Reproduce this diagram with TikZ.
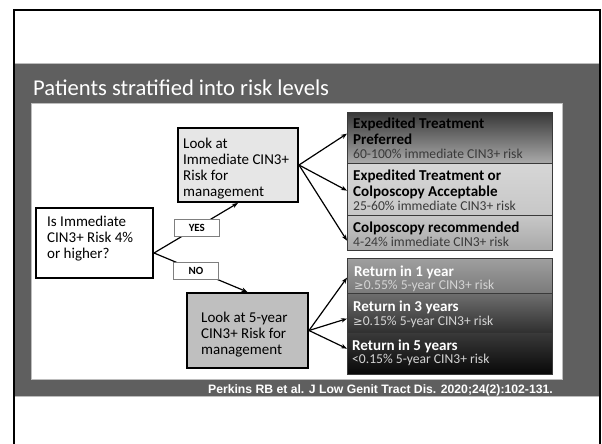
\documentclass[tikz,border=0pt]{standalone}
\usepackage{fontspec}
\setmainfont{Carlito}
\newfontfamily\capfont{Liberation Sans}
\usetikzlibrary{arrows.meta,calc}
\definecolor{band}{HTML}{5F5F5F}
\definecolor{bandedge}{HTML}{BDBDBD}
\definecolor{boxedge}{HTML}{3A3A3A}
\definecolor{lightfill}{HTML}{E6E6E6}
\definecolor{midfill}{HTML}{BFBFBF}
\definecolor{subdark}{HTML}{3A3A3A}
\definecolor{sublight}{HTML}{D4D4D4}
\definecolor{tagedge}{HTML}{7F7F7F}
\tikzset{
  qbox/.style={draw=black, line width=2pt, inner sep=0pt, anchor=north west},
  txt/.style={anchor=north west, inner sep=0pt, align=left, font=\fontsize{15}{16.2}\selectfont},
  rbox/.style={draw=boxedge, line width=1.3pt, inner sep=0pt, anchor=north west, minimum width=205},
  rtitle/.style={anchor=north west, inner sep=0pt, align=left, font=\fontsize{15.1}{16}\selectfont\bfseries},
  rsub/.style={anchor=north west, inner sep=0pt, align=left, font=\fontsize{13.6}{15}\selectfont},
  tag/.style={draw=tagedge, line width=1pt, fill=white, minimum width=45, minimum height=17, inner sep=0pt, font=\fontsize{11}{12}\selectfont\bfseries},
  conn/.style={draw=black, line width=1.2pt, -{Stealth[length=6pt,width=4.5pt]}},
}
\begin{document}
\begin{tikzpicture}[x=1pt,y=-1pt]
\useasboundingbox (0,0) rectangle (602,444);
% slide frame and band
\fill[band] (14,63) rectangle (599,397);
\draw[bandedge, line width=0.8pt] (14,63.4) -- (599,63.4);
\draw[bandedge, line width=0.8pt] (14,396.6) -- (599,396.6);
\draw[black, line width=2pt] (13.5,444) -- (13.5,10) -- (599.5,10) -- (599.5,444);
\draw[bandedge, line width=0.8pt, fill=white] (31,103) rectangle (562,379);
% title and caption
\node[anchor=base west, inner sep=0pt, text=white, font=\fontsize{22.6}{26}\selectfont] (title) at (33,95) {Patients stratified into risk levels};
\node[anchor=base east, inner sep=0pt, text=white, font=\capfont\bfseries\fontsize{12.2}{14}\selectfont] (cite) at (553,393) {Perkins RB et al. J Low Genit Tract Dis. 2020;24(2):102-131.};
% left boxes
\node[qbox, fill=white, minimum width=117, minimum height=70] (q) at (35,207) {};
\node[txt] (qt) at (47,215.5) {Is Immediate\\CIN3+ Risk 4\%\\or higher?};
\node[qbox, fill=lightfill, minimum width=120, minimum height=74] (imm) at (177,127) {};
\node[txt] (immt) at (183,137.5) {Look at\\Immediate CIN3+\\Risk for\\management};
\node[qbox, fill=midfill, minimum width=121, minimum height=75] (five) at (186,292) {};
\node[txt] (fivet) at (201,311.5) {Look at 5-year\\CIN3+ Risk for\\management};
% right boxes
\node[rbox, top color=black!78, bottom color=black!33, minimum height=51] (A) at (347,112) {};
\node[rbox, top color=black!16, middle color=black!3, bottom color=black!22, minimum height=52] (B) at (347,163) {};
\node[rbox, top color=black!22, bottom color=black!34, minimum height=35] (C) at (347,215) {};
\node[rbox, top color=black!38, bottom color=black!52, minimum height=35] (D) at (347,258) {};
\node[rbox, top color=black!57, bottom color=black!82, minimum height=40] (E) at (347,293) {};
\node[rbox, top color=black!78, bottom color=black!97, minimum height=41] (F) at (347,333) {};
\node[rtitle] (At) at (353,117.5) {Expedited Treatment\\Preferred};
\node[rsub, text=subdark] (As) at (353,148.8) {60-100\% immediate CIN3+ risk};
\node[rtitle] (Bt) at (353,169.5) {Expedited Treatment or\\Colposcopy Acceptable};
\node[rsub, text=subdark] (Bs) at (353,200.8) {25-60\% immediate CIN3+ risk};
\node[rtitle] (Ct) at (353,221.5) {Colposcopy recommended};
\node[rsub, text=subdark] (Cs) at (353,236.8) {4-24\% immediate CIN3+ risk};
\node[rtitle, text=white] (Dt) at (354,265.5) {Return in 1 year};
\node[rsub, text=sublight] (Ds) at (354,279.8) {{\fontspec{DejaVu Sans}\fontsize{11.5}{15}\selectfont ≥}0.55\% 5-year CIN3+ risk};
\node[rtitle, text=white] (Et) at (353,300.5) {Return in 3 years};
\node[rsub, text=sublight] (Es) at (353,315.8) {{\fontspec{DejaVu Sans}\fontsize{11.5}{15}\selectfont ≥}0.15\% 5-year CIN3+ risk};
\node[rtitle, text=white] (Ft) at (352,339.5) {Return in 5 years};
\node[rsub, text=sublight] (Fs) at (352,353.8) {<0.15\% 5-year CIN3+ risk};
% connectors
\draw[conn] ([yshift=-10pt]q.east) -- (imm.south) node[tag, pos=0.51] (yes) {YES};
\draw[conn] ([yshift=-10pt]q.east) -- (five.north) node[tag, pos=0.45] (no) {NO};
\draw[conn] (imm.east) -- ([yshift=4.5pt]A.west);
\draw[conn] (imm.east) -- ([yshift=-1pt]B.west);
\draw[conn] (imm.east) -- ([yshift=-7.5pt]C.west);
\draw[conn] (five.east) -- ([yshift=-1.5pt]D.west);
\draw[conn] (five.east) -- ([yshift=-5pt]E.west);
\draw[conn] (five.east) -- ([yshift=5.5pt]F.west);
\end{tikzpicture}
\end{document}
